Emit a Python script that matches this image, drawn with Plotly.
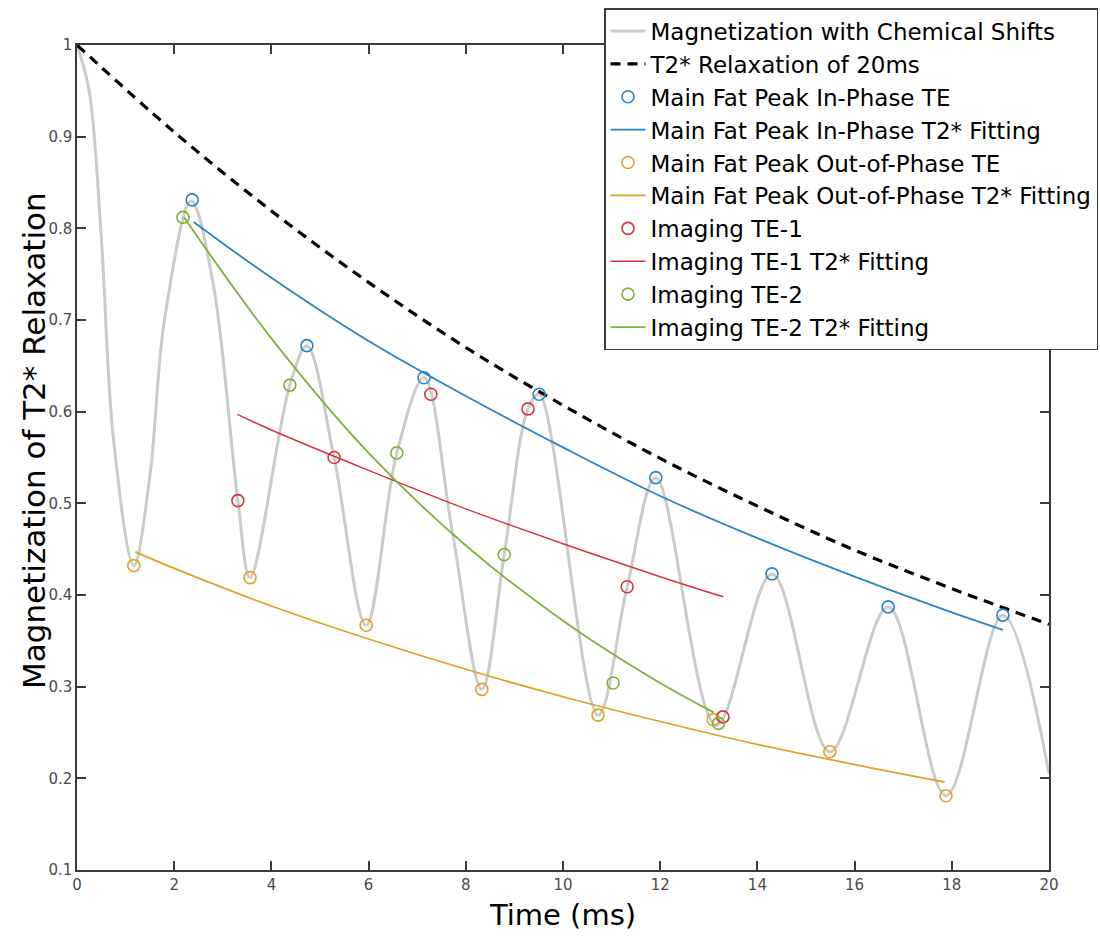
import plotly.graph_objects as go

# ---------------- data ----------------
# Magnetization with chemical shifts (grey oscillating curve)
mag_t = [0, 0.25, 0.5, 0.75, 1.17, 1.5, 1.8, 2.35,
         2.8, 3.31, 3.56, 4.38, 4.73, 5.29, 5.95, 6.58,
         7.14, 7.72, 8.33, 8.79, 9.28, 9.51, 10.72, 11.32,
         11.91, 13.15, 14.3, 15.49, 16.69, 17.88,
         19.05, 20.0]
mag_y = [1.0, 0.95, 0.79, 0.57, 0.432, 0.53, 0.70, 0.83,
         0.74, 0.503, 0.419, 0.629, 0.672, 0.550, 0.367, 0.555,
         0.637, 0.47, 0.297, 0.444, 0.603, 0.619, 0.269, 0.409,
         0.528, 0.258, 0.423, 0.229, 0.387, 0.181,
         0.378, 0.205]

# T2* relaxation of 20 ms (dashed)
t2_t = [0, 2, 4, 6, 8, 10, 12, 14, 16, 18, 20]
t2_y = [1.0, 0.905, 0.819, 0.741, 0.670, 0.607, 0.549, 0.497, 0.449, 0.407, 0.368]

# Main fat peak in-phase TE samples and fit
ip_t = [2.37, 4.73, 7.14, 9.51, 11.91, 14.30, 16.69, 19.05]
ip_y = [0.831, 0.672, 0.637, 0.619, 0.528, 0.423, 0.387, 0.378]
ipfit_t = [2.4, 4, 6, 8, 10, 12, 14, 16, 18, 19.05]
ipfit_y = [0.807, 0.746, 0.677, 0.617, 0.561, 0.508, 0.462, 0.420, 0.381, 0.362]

# Main fat peak out-of-phase TE samples and fit
op_t = [1.17, 3.56, 5.95, 8.33, 10.72, 13.09, 15.49, 17.88]
op_y = [0.432, 0.419, 0.367, 0.297, 0.269, 0.264, 0.229, 0.181]
opfit_t = [1.2, 2, 4, 6, 8, 10, 12, 14, 16, 17.85]
opfit_y = [0.447, 0.429, 0.388, 0.352, 0.319, 0.289, 0.262, 0.237, 0.215, 0.196]

# Imaging TE-1 samples and fit
te1_t = [3.31, 5.29, 7.28, 9.28, 11.32, 13.29]
te1_y = [0.503, 0.550, 0.619, 0.603, 0.409, 0.267]
te1fit_t = [3.3, 4, 6, 8, 10, 12, 13.3]
te1fit_y = [0.597, 0.580, 0.536, 0.494, 0.456, 0.420, 0.398]

# Imaging TE-2 samples and fit
te2_t = [2.18, 4.38, 6.58, 8.79, 11.03, 13.2]
te2_y = [0.812, 0.629, 0.555, 0.444, 0.304, 0.260]
te2fit_t = [2.2, 4, 6, 8, 10, 12, 13.1]
te2fit_y = [0.812, 0.680, 0.555, 0.454, 0.372, 0.304, 0.272]

x_ticks = [0, 2, 4, 6, 8, 10, 12, 14, 16, 18, 20]
y_ticks = [0.1, 0.2, 0.3, 0.4, 0.5, 0.6, 0.7, 0.8, 0.9, 1]

BLUE = "#2a84c2"
GOLD = "#dfa126"
RED = "#d8323f"
GREEN = "#7fb23a"
GREY = "#cbcbcb"

FONT = "DejaVu Sans"

fig = go.Figure()

def add(trace, gid):
    trace.legendgroup = gid
    fig.add_trace(trace)

add(go.Scatter(x=mag_t, y=mag_y, mode="lines", name="Magnetization with Chemical Shifts",
               line=dict(color=GREY, width=3, shape="spline", smoothing=1.0)), "g1")
add(go.Scatter(x=t2_t, y=t2_y, mode="lines", name="T2* Relaxation of 20ms",
               line=dict(color="black", width=3.2, dash="10px,7px", shape="spline")), "g2")
add(go.Scatter(x=ip_t, y=ip_y, mode="markers", name="Main Fat Peak In-Phase TE",
               marker=dict(symbol="circle-open", size=12, color=BLUE, line=dict(width=1.6, color=BLUE))), "g3")
add(go.Scatter(x=ipfit_t, y=ipfit_y, mode="lines", name="Main Fat Peak In-Phase T2* Fitting",
               line=dict(color=BLUE, width=1.8, shape="spline")), "g4")
add(go.Scatter(x=op_t, y=op_y, mode="markers", name="Main Fat Peak Out-of-Phase TE",
               marker=dict(symbol="circle-open", size=12, color=GOLD, line=dict(width=1.6, color=GOLD))), "g5")
add(go.Scatter(x=opfit_t, y=opfit_y, mode="lines", name="Main Fat Peak Out-of-Phase T2* Fitting",
               line=dict(color=GOLD, width=1.8, shape="spline")), "g6")
add(go.Scatter(x=te1_t, y=te1_y, mode="markers", name="Imaging TE-1",
               marker=dict(symbol="circle-open", size=12, color=RED, line=dict(width=1.6, color=RED))), "g7")
add(go.Scatter(x=te1fit_t, y=te1fit_y, mode="lines", name="Imaging TE-1 T2* Fitting",
               line=dict(color=RED, width=1.5, shape="spline")), "g8")
add(go.Scatter(x=te2_t, y=te2_y, mode="markers", name="Imaging TE-2",
               marker=dict(symbol="circle-open", size=12, color=GREEN, line=dict(width=1.6, color=GREEN))), "g9")
add(go.Scatter(x=te2fit_t, y=te2fit_y, mode="lines", name="Imaging TE-2 T2* Fitting",
               line=dict(color=GREEN, width=1.8, shape="spline")), "g10")

axis_common = dict(
    showline=True, linecolor="#3a3a3a", linewidth=1.5, mirror="ticks",
    ticks="inside", ticklen=9, tickwidth=1.5, tickcolor="#3a3a3a",
    showgrid=False, zeroline=False,
    tickfont=dict(family=FONT, size=15, color="#4a4a4a"),
)

fig.update_xaxes(range=[0, 20], tickvals=x_ticks, ticktext=[str(v) for v in x_ticks],
                 title=dict(text="Time (ms)", font=dict(family=FONT, size=29, color="black"), standoff=12),
                 **axis_common)
fig.update_yaxes(range=[0.1, 1], tickvals=y_ticks, ticktext=[("1" if v == 1 else f"{v:.1f}") for v in y_ticks],
                 **axis_common)

fig.add_annotation(text="Magnetization of T2* Relaxation", textangle=-90,
                   xref="paper", yref="paper", x=(34 - 77) / 972, y=(870 - 441) / 825,
                   xanchor="center", yanchor="middle", showarrow=False,
                   font=dict(family=FONT, size=31, color="black"))

fig.update_layout(
    width=1100, height=943,
    margin=dict(l=77, r=51, t=45, b=73, autoexpand=False),
    paper_bgcolor="white", plot_bgcolor="white",
    showlegend=True,
    legend=dict(x=(604 - 77) / 972, y=1 + (45 - 8) / 825, xanchor="left", yanchor="top",
                bgcolor="white", bordercolor="#3a3a3a", borderwidth=1.5,
                font=dict(family=FONT, size=23, color="black"),
                itemwidth=35, tracegroupgap=0, traceorder="grouped"),
)

fig.write_html("out.html")
